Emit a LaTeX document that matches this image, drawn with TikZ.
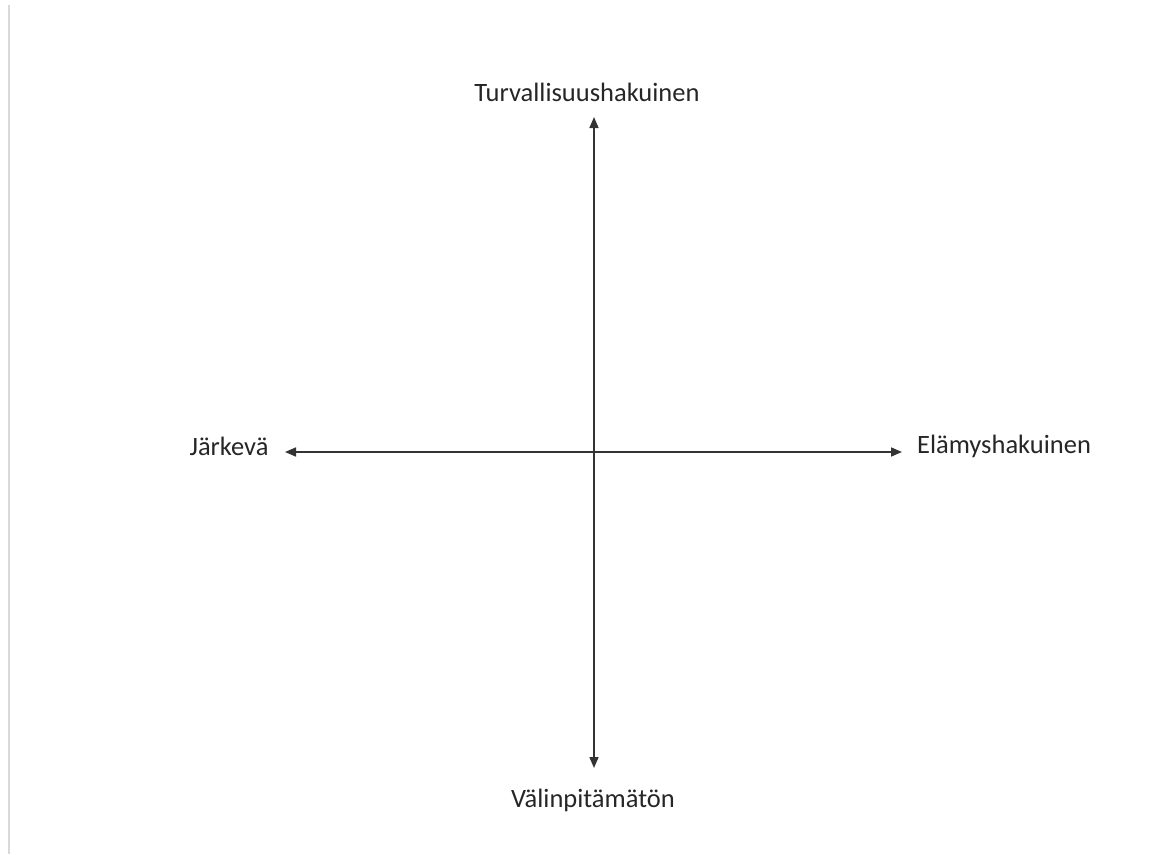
\documentclass[tikz,border=0pt]{standalone}
\usepackage{fontspec}
\setmainfont{Carlito}
\usetikzlibrary{arrows.meta}
\colorlet{axisline}{black!80}
\colorlet{edgeline}{gray!30}

\begin{document}
\begin{tikzpicture}[x=1pt,y=-1pt]
        \useasboundingbox (0,0) rectangle (1167,854);
        % coordinates
        \coordinate (O) at (594,452);
        \coordinate (T) at (594,117);
        \coordinate (B) at (594,768);
        \coordinate (L) at (285,452);
        \coordinate (R) at (902,452);
        % page edge
        \draw[edgeline, line width=2pt] (9,5) -- (9,854);
        % labels
        \node[font=\fontsize{26.5}{31}\selectfont, text=black!85] (turva) at (587,92) {Turvallisuushakuinen};
        \node[font=\fontsize{26.5}{31}\selectfont, text=black!85] (valin) at (593,800) {Välinpitämätön};
        \node[font=\fontsize{26.5}{31}\selectfont, text=black!85] (jarke) at (229,446) {Järkevä};
        \node[font=\fontsize{26.5}{31}\selectfont, text=black!85] (elamy) at (1004,446) {Elämyshakuinen};
        % arrows
        \draw[{Triangle[length=11pt,width=9pt]}-{Triangle[length=11pt,width=9pt]}][axisline, line width=1.6pt] (T) -- (B);
        \draw[{Triangle[length=11pt,width=9pt]}-{Triangle[length=11pt,width=9pt]}][axisline, line width=1.6pt] (L) -- (R);
    \end{tikzpicture}
\end{document}
